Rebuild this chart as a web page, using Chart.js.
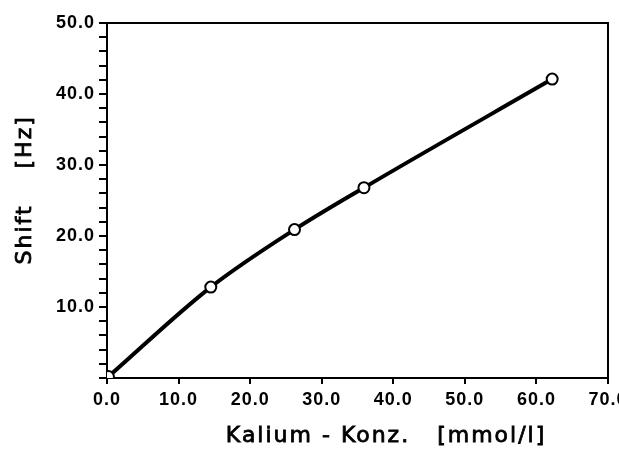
<!DOCTYPE html>
<html lang="de">
  <head>
    <meta charset="UTF-8" />
    <title>Shift vs Kalium-Konz.</title>
    <script src="https://cdn.jsdelivr.net/npm/chart.js"></script>
    <style>
      html, body { margin: 0; padding: 0; background: #fff; }
      #wrap { width: 619px; height: 450px; }
    </style>
  </head>
  <body>
    <div id="wrap"><canvas id="chart" width="619" height="450"></canvas></div>
    <script>
      // measured values (mmol/l, Hz)
      const kalium = [0.2, 14.5, 26.2, 35.9, 62.2];
      const shift = [0.2, 12.8, 20.9, 26.8, 42.1];

      const xTitle = "Kalium - Konz.   [mmol/l]";
      const yTitle = "Shift    [Hz]";
      const font = "'DejaVu Sans', sans-serif";
      const tickFont = "'Liberation Sans', sans-serif";

      // frame + axis titles (letter-spaced like the original typeset)
      const framePlugin = {
        id: "frame",
        beforeDraw(chart) {
          // wider spacing for tick labels too; chart.js restores back to this
          chart.ctx.letterSpacing = "1px";
        },
        beforeDatasetsDraw(chart) {
          const a = chart.chartArea;
          const ctx = chart.ctx;
          ctx.save();
          ctx.strokeStyle = "#000";
          ctx.lineWidth = 2;
          ctx.strokeRect(a.left, a.top, a.right - a.left, a.bottom - a.top);
          ctx.restore();
        },
        afterDraw(chart) {
          const a = chart.chartArea;
          const ctx = chart.ctx;
          ctx.save();
          ctx.fillStyle = "#000";
          ctx.strokeStyle = "#000";
          ctx.lineWidth = 0.8;
          ctx.font = "22px " + font;
          ctx.letterSpacing = "2px";
          ctx.textAlign = "center";
          ctx.textBaseline = "middle";
          const xt = a.left + (a.right - a.left) * 0.557;
          ctx.fillText(xTitle, xt, 436);
          ctx.strokeText(xTitle, xt, 436);
          ctx.translate(25, a.top + (a.bottom - a.top) * 0.47);
          ctx.rotate(-Math.PI / 2);
          ctx.fillText(yTitle, 0, 0);
          ctx.strokeText(yTitle, 0, 0);
          ctx.restore();
        },
      };

      new Chart(document.getElementById("chart"), {
        type: "line",
        data: {
          datasets: [
            {
              data: kalium.map((k, i) => ({ x: k, y: shift[i] })),
              borderColor: "#000",
              borderWidth: 4,
              cubicInterpolationMode: "monotone",
              pointRadius: 5.5,
              pointBorderWidth: 2,
              pointBackgroundColor: "#fff",
              pointBorderColor: "#000",
            },
          ],
        },
        options: {
          responsive: false,
          animation: false,
          layout: { padding: { left: 0, top: 23, right: 11, bottom: 0 } },
          plugins: { legend: { display: false }, tooltip: { enabled: false } },
          scales: {
            x: {
              type: "linear",
              min: 0,
              max: 70,
              afterFit(s) {
                s.height = 72;
                s.paddingLeft = 0;
                s.paddingRight = 0;
              },
              border: { display: true, color: "#000", width: 2 },
              grid: { drawOnChartArea: false, color: "#000", lineWidth: 2, tickLength: 6 },
              ticks: {
                stepSize: 10,
                color: "#000",
                padding: 5,
                maxRotation: 0,
                font: { family: tickFont, size: 18, weight: "bold" },
                callback: (v) => v.toFixed(1),
              },
            },
            y: {
              min: 0,
              max: 50,
              afterFit(s) {
                s.width = 107;
                s.paddingTop = 0;
                s.paddingBottom = 0;
              },
              border: { display: true, color: "#000", width: 2 },
              grid: { drawOnChartArea: false, color: "#000", lineWidth: 2, tickLength: 8 },
              ticks: {
                stepSize: 2,
                color: "#000",
                padding: 4,
                autoSkip: false,
                font: { family: tickFont, size: 18, weight: "bold" },
                callback: (v) => (v % 10 === 0 && v > 0 ? v.toFixed(1) : ""),
              },
            },
          },
        },
        plugins: [framePlugin],
      });
    </script>
  </body>
</html>
